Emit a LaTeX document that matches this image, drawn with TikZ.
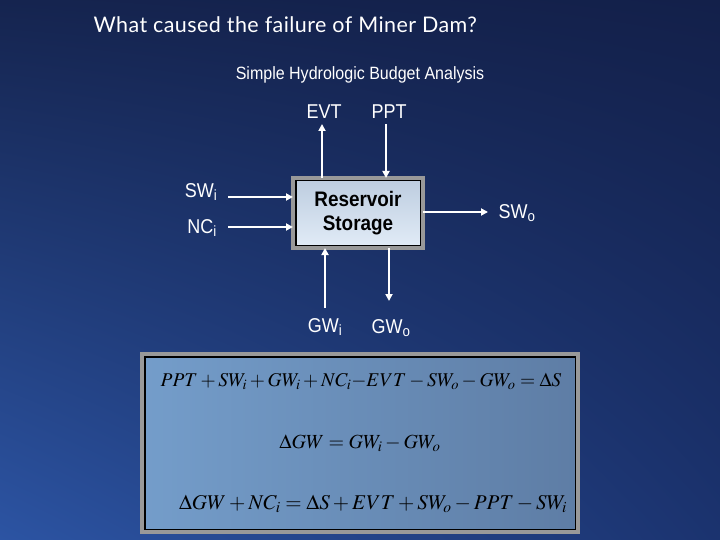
\documentclass[tikz,border=0pt]{standalone}
\usepackage{mathptmx}
\usepackage[no-math]{fontspec}
\setmainfont{Liberation Sans}[FakeStretch=0.9]
\newfontfamily\titlefont{Lato}[LetterSpace=2]
\usetikzlibrary{arrows.meta,shadings}
\definecolor{bgA}{HTML}{15244F}
\definecolor{bgB}{HTML}{13204A}
\definecolor{bgC}{HTML}{2C54A3}
\definecolor{bgD}{HTML}{1B336F}
\definecolor{eqL}{HTML}{749DCA}
\definecolor{eqR}{HTML}{5E7DA5}
\definecolor{boxT}{HTML}{BCCCDF}
\definecolor{boxB}{HTML}{E2ECF7}
\tikzset{
  lbl/.style={text=white, font=\fontsize{20}{22}\selectfont, inner sep=0pt},
  flow/.style={white, line width=2pt, -{Triangle[length=7pt,width=7pt]}},
  storebox/.style={draw=gray!80, line width=4pt, outer sep=0pt, top color=boxT, bottom color=boxB,
    minimum width=130pt, minimum height=70pt, align=center, inner sep=0pt,
    font=\fontsize{21}{24}\selectfont\bfseries},
  eqbox/.style={draw=gray!80, line width=4pt, outer sep=0pt, left color=eqL, right color=eqR,
    minimum width=436pt, minimum height=178pt},
  eqn/.style={inner sep=0pt}
}
\begin{document}
\begin{tikzpicture}[x=1pt,y=-1pt]
\useasboundingbox (0,0) rectangle (720,540);
\shade[upper left=bgA, upper right=bgB, lower left=bgC, lower right=bgD] (0,0) rectangle (720,540);

\node[text=white, font=\titlefont\fontsize{21.5}{24}\selectfont, anchor=west] (title) at (90,25) {What caused the failure of Miner Dam?};
\node[text=white, font=\fontsize{17.8}{19}\selectfont] (sub) at (360,75) {Simple Hydrologic Budget Analysis};

\node[storebox] (box) at (358,213) {Reservoir\\Storage};
\draw[black, line width=1.5pt] ([xshift=2.75pt,yshift=-2.75pt]box.north west) rectangle ([xshift=-2.75pt,yshift=2.75pt]box.south east);

\node[lbl] (evt) at (324,112) {EVT};
\node[lbl] (ppt) at (389,112) {PPT};
\node[lbl] (gwi) at (325,327) {GW\textsubscript{i}};
\node[lbl] (gwo) at (391,328) {GW\textsubscript{o}};
\node[lbl] (swi) at (201,192) {SW\textsubscript{i}};
\node[lbl] (nci) at (202,228) {NC\textsubscript{i}};
\node[lbl] (swo) at (517,213) {SW\textsubscript{o}};

\coordinate (evtf) at (322,124);
\coordinate (pptf) at (386,124);
\coordinate (gwif) at (325,308);
\coordinate (gwof) at (389,301);
\coordinate (swif) at (228,197);
\coordinate (ncif) at (228,227);
\coordinate (swof) at (488,212);

\draw[flow] (evtf |- box.north) -- (evtf);
\draw[flow] (pptf) -- (pptf |- box.north);
\draw[flow] (gwif) -- (gwif |- box.south);
\draw[flow] (gwof |- box.south) -- (gwof);
\draw[flow] (swif) -- (swif -| box.west);
\draw[flow] (ncif) -- (ncif -| box.west);
\draw[flow] (box.east |- swof) -- (swof);

\node[eqbox] (eq) at (360,443) {};
\draw[black, line width=1.5pt] ([xshift=2.75pt,yshift=-2.75pt]eq.north west) rectangle ([xshift=-2.75pt,yshift=2.75pt]eq.south east);
\node[eqn, font=\fontsize{19.5}{22}\selectfont] (e1) at (361,381) {$PPT+SW_i+GW_i+NC_i{-}EVT-SW_o-GW_o=\Delta S$};
\node[eqn, font=\fontsize{20}{22}\selectfont] (e2) at (360,443) {$\Delta GW=GW_i-GW_o$};
\node[eqn, font=\fontsize{21}{23}\selectfont] (e3) at (373,504) {$\Delta GW+NC_i=\Delta S+EVT+SW_o-PPT-SW_i$};
\end{tikzpicture}
\end{document}
